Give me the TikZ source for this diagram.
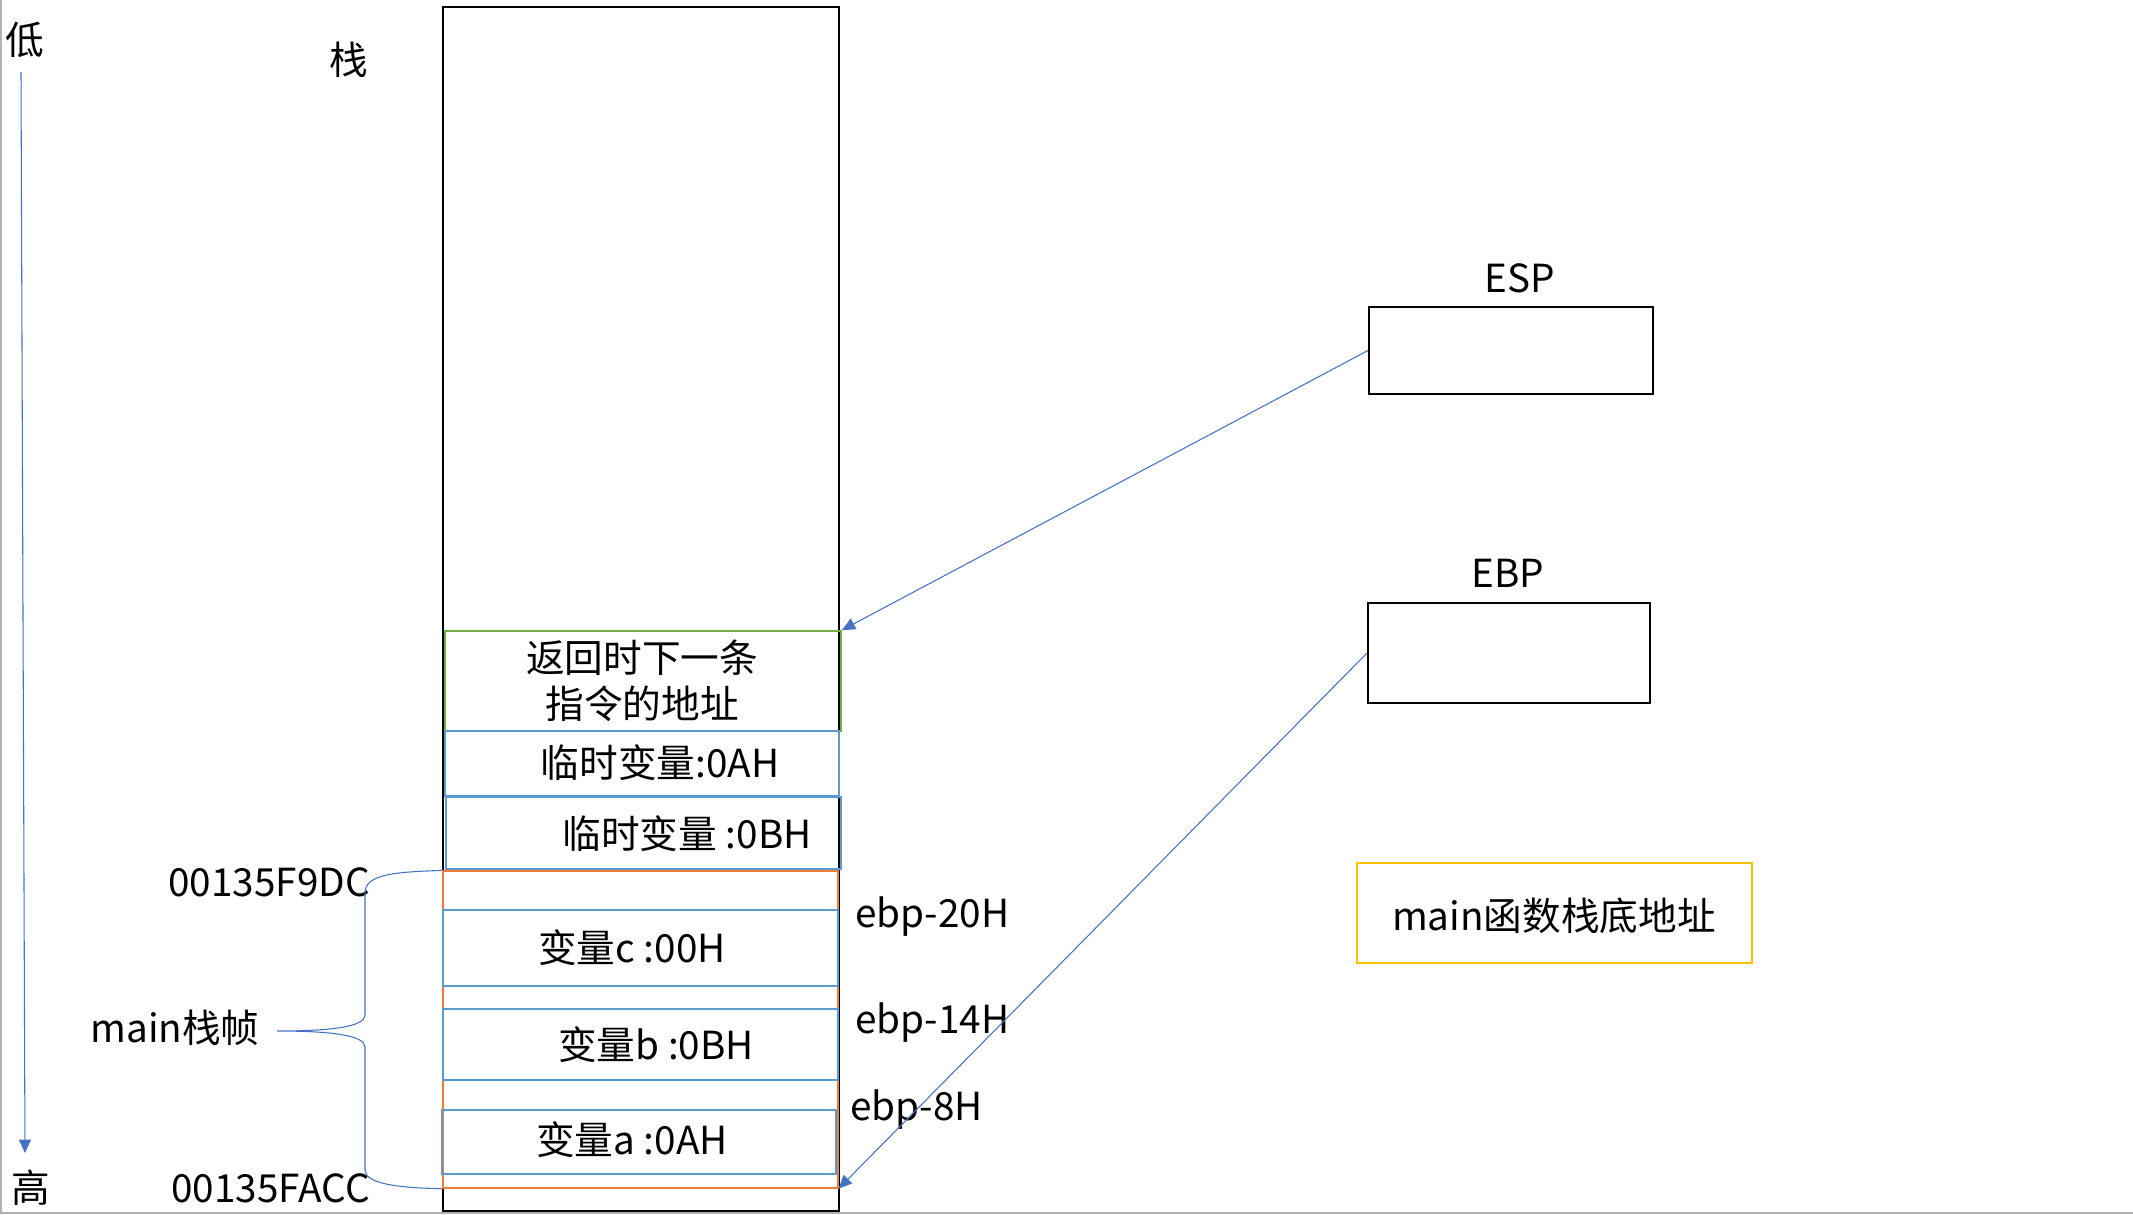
\documentclass[tikz,border=0pt]{standalone}
\usepackage{fontspec}
\setmainfont{Noto Sans CJK SC}
\usetikzlibrary{fit,arrows.meta}
\definecolor{cgreen}{HTML}{70AD47}
\definecolor{cblue}{HTML}{5B9BD5}
\definecolor{corange}{HTML}{ED7D31}
\definecolor{cyellow}{HTML}{FFC000}
\definecolor{carrow}{HTML}{4472C4}
\tikzset{
  box/.style={draw, inner sep=0pt, line width=1.5pt},
  greenbox/.style={draw=cgreen, inner sep=0pt, line width=1.3pt},
  bluebox/.style={draw=cblue, inner sep=0pt, line width=1.3pt},
  orangebox/.style={draw=corange, inner sep=0pt, line width=0.9pt},
  yellowbox/.style={draw=cyellow, inner sep=0pt, line width=1.3pt},
  conn/.style={draw=carrow, line width=0.8pt},
  arr/.style={conn, -{Triangle[length=10pt,width=9pt]}},
  txt/.style={font=\fontsize{29}{35}\selectfont, inner sep=0pt, align=center},
}
\begin{document}
\begin{tikzpicture}[x=0.75pt,y=-0.75pt]
\useasboundingbox (0,0) rectangle (2133,1214);
% slide edges
\draw[gray!60, line width=0.8pt] (1,0) -- (1,1213) -- (2133,1213);

% stack outer box
\node[box, fit={(443,7)(839,1211)}] (stack) {};
% orange main frame
\node[orangebox, fit={(443,871)(838,1188)}] (frame) {};
% return address
\node[greenbox, fit={(445,631)(841,731)}] (ret) {};
\node[txt] (rettxt) at (642,681) {返回时下一条\\指令的地址};
% temporaries
\node[bluebox, fit={(445,731)(839,796)}] (tmpa) {};
\node[txt] (tmpatxt) at (660,763) {临时变量:0AH};
\node[bluebox, fit={(446,797)(841,869)}] (tmpb) {};
\node[txt] (tmpbtxt) at (687,834) {临时变量 :0BH};
% variables
\node[bluebox, fit={(443,910)(838,986)}] (varc) {};
\node[txt] (varctxt) at (632,948) {变量c :00H};
\node[bluebox, fit={(443,1009)(838,1080)}] (varb) {};
\node[txt] (varbtxt) at (656,1045) {变量b :0BH};
\node[bluebox, fit={(442,1110)(836,1174)}] (vara) {};
\node[txt] (varatxt) at (632,1140) {变量a :0AH};

% ebp offsets
\node[txt, anchor=west] (o20) at (855,917) {ebp-20H};
\node[txt, anchor=west] (o14) at (855,1023) {ebp-14H};
\node[txt, anchor=west] (o8) at (850,1110) {ebp-8H};

% titles
\node[txt] (low) at (25,40) {低};
\node[txt] (high) at (31,1188) {高};
\node[txt] (title) at (349,60) {栈};
\coordinate (arrtop) at (21,72);
\coordinate (arrbot) at (25,1153);
\draw[arr] (arrtop) -- (arrbot);

% addresses and brace
\node[txt, anchor=east] (addrtop) at (370,882) {00135F9DC};
\node[txt, anchor=east] (addrbot) at (370,1188) {00135FACC};
\node[txt] (mainlbl) at (175,1028) {main栈帧};
\coordinate (tip) at (277,1031);
\draw[conn] (frame.north west) .. controls (395,872) and (365,874) .. (365,893)
  -- (365,1015) .. controls (365,1027) and (330,1031) .. (tip)
  .. controls (330,1031) and (365,1035) .. (365,1047)
  -- (365,1170) .. controls (365,1183) and (395,1188) .. (frame.south west);

% registers
\node[box, fit={(1369,307)(1653,394)}] (esp) {};
\node[txt] (esplbl) at (1520,278) {ESP};
\node[box, fit={(1368,603)(1650,703)}] (ebp) {};
\node[txt] (ebplbl) at (1508,573) {EBP};
\draw[arr] (esp.west) -- (ret.north east);
\draw[arr] (ebp.west) -- (frame.south east);

% main base address
\node[yellowbox, fit={(1357,863)(1752,963)}] (base) {};
\node[txt] (basetxt) at (1554,916) {main函数栈底地址};
\end{tikzpicture}
\end{document}
